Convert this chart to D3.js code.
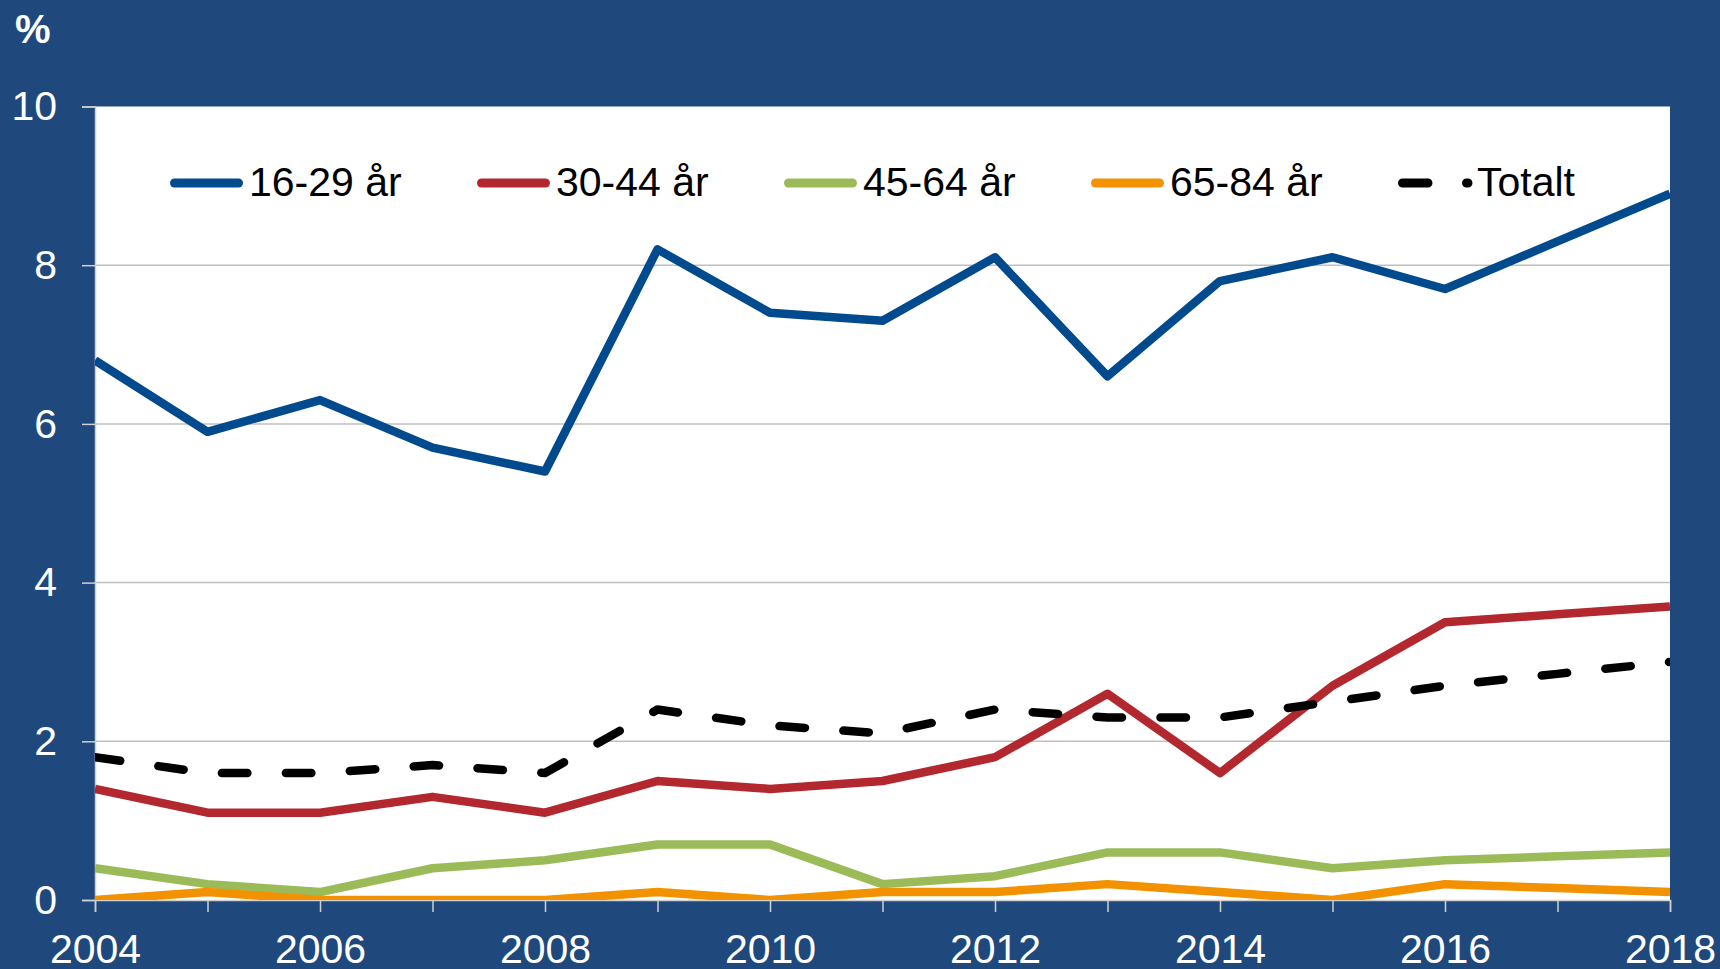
<!DOCTYPE html>
<html>
<head>
<meta charset="utf-8">
<script src="https://cdnjs.cloudflare.com/ajax/libs/d3/7.8.5/d3.min.js"></script>
<style>
  body { margin: 0; background: #1F497D; }
  svg { display: block; font-family: "Liberation Sans", Arial, sans-serif; }
</style>
</head>
<body>
<div id="my_dataviz"></div>
<script>
var years = [2004, 2005, 2006, 2007, 2008, 2009, 2010, 2011, 2012, 2013, 2014, 2015, 2016, 2017, 2018];
var yearLabels = [2004, 2006, 2008, 2010, 2012, 2014, 2016, 2018];
var yTicks = [0, 2, 4, 6, 8, 10];

var age1629 = [6.8, 5.9, 6.3, 5.7, 5.4, 8.2, 7.4, 7.3, 8.1, 6.6, 7.8, 8.1, 7.7, 8.3, 8.9];
var age3044 = [1.4, 1.1, 1.1, 1.3, 1.1, 1.5, 1.4, 1.5, 1.8, 2.6, 1.6, 2.7, 3.5, 3.6, 3.7];
var age4564 = [0.4, 0.2, 0.1, 0.4, 0.5, 0.7, 0.7, 0.2, 0.3, 0.6, 0.6, 0.4, 0.5, 0.55, 0.6];
var age6584 = [0, 0.1, 0, 0, 0, 0.1, 0, 0.1, 0.1, 0.2, 0.1, 0, 0.2, 0.15, 0.1];
var totalt = [1.8, 1.6, 1.6, 1.7, 1.6, 2.4, 2.2, 2.1, 2.4, 2.3, 2.3, 2.5, 2.7, 2.85, 3.0];

var seriesNames = ["16-29 år", "30-44 år", "45-64 år", "65-84 år", "Totalt"];
var seriesValues = [age1629, age3044, age4564, age6584, totalt];
var seriesColors = ["#004A8D", "#B3282E", "#9BBB59", "#F39200", "#000000"];
var seriesDash = [null, null, null, null, "25.5,38.5"];

var W = 1720, H = 969;
var margin = {top: 106.5, right: 50, bottom: 69, left: 95};
var width = W - margin.left - margin.right,
    height = H - margin.top - margin.bottom;

var svg = d3.select("#my_dataviz")
  .append("svg")
    .attr("width", W)
    .attr("height", H);

svg.append("rect")
  .attr("width", W).attr("height", H)
  .attr("fill", "#1F497D");

svg.append("text")
  .attr("x", 15).attr("y", 43)
  .attr("fill", "#fff")
  .attr("font-size", 40)
  .attr("font-weight", "bold")
  .text("%");

var g = svg.append("g")
  .attr("transform", "translate(" + margin.left + "," + margin.top + ")");

g.append("rect")
  .attr("width", width).attr("height", height)
  .attr("fill", "#fff");

g.append("clipPath").attr("id", "plotclip")
  .append("rect").attr("width", width).attr("height", height);

var x = d3.scaleLinear()
  .domain([2004, 2018])
  .range([0, width]);

var y = d3.scaleLinear()
  .domain([0, 10])
  .range([height, 0]);

// gridlines
g.append("g")
  .selectAll("line")
  .data(yTicks.filter(d => d > 0 && d < 10))
  .join("line")
    .attr("x1", 0).attr("x2", width)
    .attr("y1", d => y(d)).attr("y2", d => y(d))
    .attr("stroke", "#BFBFBF")
    .attr("stroke-width", 1.5);

// axes
var yAxis = g.append("g")
  .call(d3.axisLeft(y).tickValues(yTicks).tickSize(13).tickPadding(25));
yAxis.select(".domain").attr("stroke", "#D0D0D0").attr("stroke-width", 1.5);
yAxis.selectAll(".tick line").attr("stroke", "#D0D0D0").attr("stroke-width", 1.5);
yAxis.selectAll("text")
  .attr("fill", "#fff")
  .attr("font-size", 41)
  .attr("font-family", "Liberation Sans, Arial, sans-serif");

var xAxis = g.append("g")
  .attr("transform", "translate(0," + height + ")")
  .call(d3.axisBottom(x)
    .tickValues(years)
    .tickSize(12)
    .tickPadding(22)
    .tickFormat(d => yearLabels.indexOf(d) >= 0 ? String(d) : ""));
xAxis.select(".domain").attr("stroke", "#D0D0D0").attr("stroke-width", 1.5);
xAxis.selectAll(".tick line").attr("stroke", "#D0D0D0").attr("stroke-width", 1.5);
xAxis.selectAll("text")
  .attr("fill", "#fff")
  .attr("font-size", 41)
  .attr("font-family", "Liberation Sans, Arial, sans-serif");

// lines
var line = d3.line()
  .x((d, i) => x(years[i]))
  .y(d => y(d))
  .curve(d3.curveLinear);

var lines = g.append("g").attr("clip-path", "url(#plotclip)");
seriesValues.forEach(function(vals, i) {
  lines.append("path")
    .datum(vals)
    .attr("fill", "none")
    .attr("stroke", seriesColors[i])
    .attr("stroke-width", 8.5)
    .attr("stroke-linejoin", "round")
    .attr("stroke-linecap", seriesDash[i] ? "round" : "butt")
    .attr("stroke-dasharray", seriesDash[i])
    .attr("d", line);
});

// legend
var legend = svg.append("g");
seriesNames.forEach(function(name, i) {
  var lx = 170 + i * 307;
  legend.append("line")
    .attr("x1", lx + 4.5).attr("x2", seriesDash[i] ? lx + 70 : lx + 68.5)
    .attr("y1", 183).attr("y2", 183)
    .attr("stroke", seriesColors[i])
    .attr("stroke-width", 9)
    .attr("stroke-linecap", "round")
    .attr("stroke-dasharray", seriesDash[i]);
  legend.append("text")
    .attr("x", lx + 79)
    .attr("y", 196)
    .attr("font-size", 41)
    .attr("fill", "#000")
    .text(name);
});
</script>
</body>
</html>
